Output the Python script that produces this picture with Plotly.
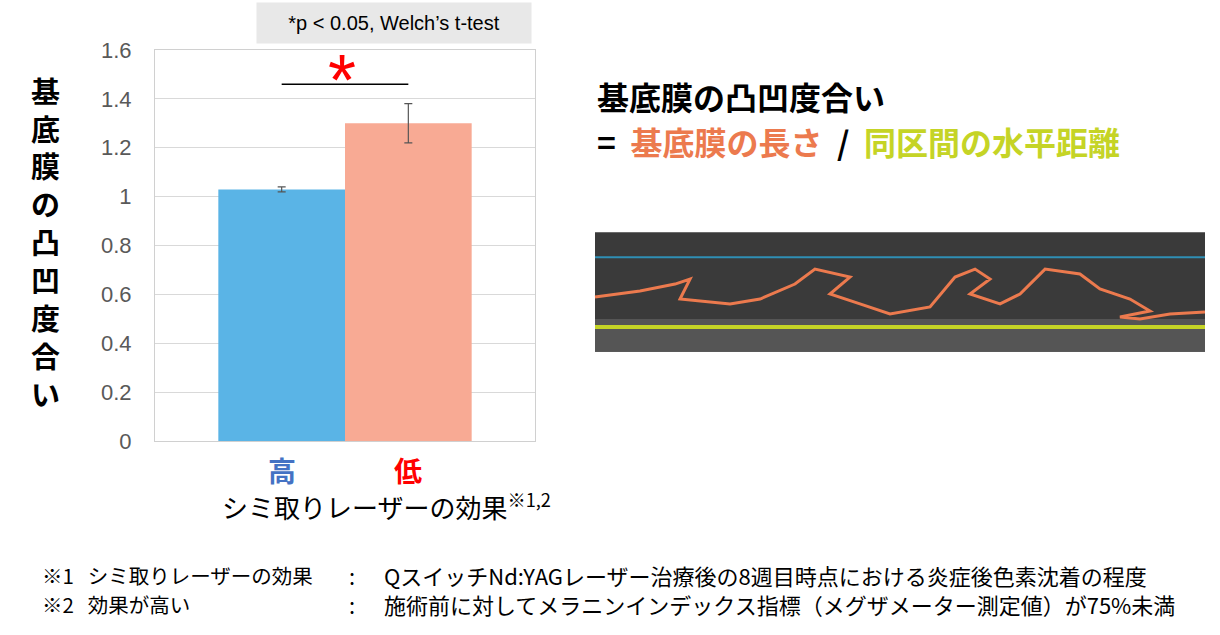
import plotly.graph_objects as go

categories = ["高", "低"]
values = [1.03, 1.30]
errors = [0.01, 0.08]
colors = ["#5ab4e6", "#f8aa94"]
yticks = [0, 0.2, 0.4, 0.6, 0.8, 1, 1.2, 1.4, 1.6]
sig_y = 1.46

W, H = 1220, 635
def px(x): return x / W
def py(y):
    t = (y - 12) / 0.964  # compensate observed vertical offset/scale of the render
    return 1 - t / H

fig = go.Figure()
fig.add_trace(go.Bar(x=[1, 2], y=values, width=1, marker=dict(color=colors, line=dict(width=0)),
                     error_y=dict(type="data", array=errors, color="#555", thickness=1.2, width=4),
                     showlegend=False))
fig.add_trace(go.Scatter(x=[1, 2], y=[sig_y, sig_y], mode="lines", line=dict(color="black", width=1.5),
                         showlegend=False, hoverinfo="skip"))

fig.update_layout(
    width=W, height=H, margin=dict(l=0, r=0, t=0, b=0), plot_bgcolor="white", paper_bgcolor="white",
    font=dict(family="Noto Sans CJK JP"),
    xaxis=dict(domain=[px(155), px(535)], range=[0, 3], showticklabels=False, showgrid=False,
               zeroline=False, showline=True, linecolor="#d0d0d0", mirror=True, fixedrange=True),
    yaxis=dict(domain=[max(0, py(443)), min(1, py(50))], range=[0, 1.6], tickvals=yticks,
               ticktext=[f"{v:g}" for v in yticks], tickfont=dict(size=22, color="#595959", family="Liberation Sans"),
               showgrid=True, gridcolor="#d9d9d9", zeroline=False, showline=True, linecolor="#d0d0d0",
               mirror=True, ticks="", ticklabelstandoff=18, fixedrange=True),
)

def A(x, y, text, size, color="black", xanchor="center", xref="paper", **kw):
    d = dict(x=x, y=py(y), xref=xref, yref="paper", text=text, showarrow=False,
             font=dict(size=size, color=color, **({"family": kw.pop("family")} if "family" in kw else {})),
             xanchor=xanchor, yanchor="middle")
    d.update(kw)
    return d

ann = []
for i, ch in enumerate("基底膜の凸凹度合い"):
    ann.append(A(px(45), 90 + i * 38, f"<b>{ch}</b>", 29, height=36))
ann.append(A(1, 472, "<b>高</b>", 28, "#4472c4", xref="x"))
ann.append(A(2, 472, "<b>低</b>", 28, "#ff0000", xref="x"))
ann.append(A(px(386), 507, "シミ取りレーザーの効果<sup>※1,2</sup>", 26))
ann.append(A(px(342), 80, "*", 72, "#ff0000", family="Liberation Sans"))
ann.append(A(px(394), 23, "*p < 0.05, Welch’s t-test", 20, family="Liberation Sans",
             bgcolor="#e8e8e8", width=272, height=38))
ann.append(A(px(595), 96, "<b>基底膜の凸凹度合い</b>", 32, xanchor="left", height=42))
ann.append(A(px(595), 141, "<b>=  <span style='color:#ec7a4e'>基底膜の長さ</span>  /  <span style='color:#c5d426'>同区間の水平距離</span></b>",
             32, xanchor="left", height=42))
ann.append(A(px(40), 577, "※1   シミ取りレーザーの効果", 20.5, xanchor="left"))
ann.append(A(px(40), 606, "※2   効果が高い", 20.5, xanchor="left"))
for yy in (577, 606):
    ann.append(A(px(352), yy, ":", 22))
ann.append(A(px(382), 577, "QスイッチNd:YAGレーザー治療後の8週目時点における炎症後色素沈着の程度", 22, xanchor="left"))
ann.append(A(px(382), 606, "施術前に対してメラニンインデックス指標（メグザメーター測定値）が75%未満", 22, xanchor="left"))
fig.update_layout(annotations=ann)

shapes = [
    dict(type="rect", xref="paper", yref="paper", x0=px(595), x1=px(1205), y0=py(353), y1=py(233),
         fillcolor="#3a3a3a", line=dict(width=0), layer="below"),
    dict(type="rect", xref="paper", yref="paper", x0=px(595), x1=px(1205), y0=py(353), y1=py(320),
         fillcolor="#555555", line=dict(width=0), layer="below"),
    dict(type="line", xref="paper", yref="paper", x0=px(595), x1=px(1205), y0=py(258), y1=py(258),
         line=dict(color="#2f8fb5", width=2)),
    dict(type="line", xref="paper", yref="paper", x0=px(595), x1=px(1205), y0=py(328), y1=py(328),
         line=dict(color="#c5d426", width=4)),
]
pts = [(595,298),(640,292),(675,285),(690,280),(680,300),(730,305),(760,300),(795,285),(815,270),
       (850,278),(830,295),(860,305),(890,315),(930,308),(955,278),(975,270),(990,280),(970,295),
       (1000,305),(1020,295),(1045,270),(1080,275),(1100,290),(1130,300),(1150,312),(1120,318),
       (1140,320),(1170,315),(1205,313)]
path = "M " + " L ".join(f"{px(x):.4f},{py(y):.4f}" for x, y in pts)
shapes.append(dict(type="path", xref="paper", yref="paper", path=path, line=dict(color="#ec7a4e", width=3)))
fig.update_layout(shapes=shapes)

fig.write_html("out.html", config={"displayModeBar": False},
               post_script="document.body.style.margin='0';document.body.style.overflow='hidden';")
